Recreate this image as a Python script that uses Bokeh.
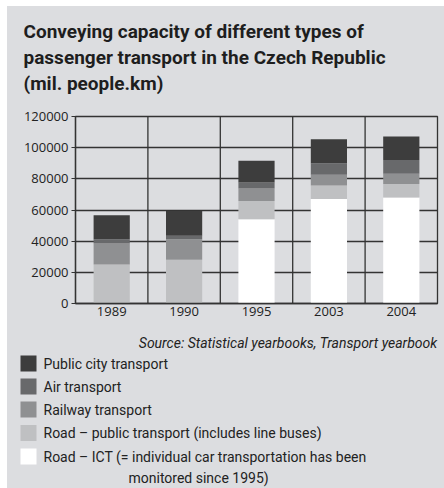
from bokeh.plotting import figure
from bokeh.layouts import column
from bokeh.models import Span, FixedTicker, ColumnDataSource, Range1d, FactorRange
from bokeh.core.properties import value
from bokeh.embed import file_html
from bokeh.resources import INLINE

years = ["1989", "1990", "1995", "2003", "2004"]
road_ict = [0, 0, 54000, 67000, 68000]
road_public = [25000, 28000, 11800, 8800, 8700]
railway = [13500, 13200, 8000, 6900, 6600]
air = [2700, 2300, 3800, 7300, 8800]
public_city = [15500, 15800, 14000, 15400, 15000]

series = ["road_ict", "road_public", "railway", "air", "public_city"]
series_labels = [
    "Road – ICT (= individual car transportation has been",
    "Road – public transport (includes line buses)",
    "Railway transport",
    "Air transport",
    "Public city transport",
]
colors = ["#ffffff", "#bfc0c2", "#8f9092", "#68696b", "#3d3d3d"]
y_ticks = [0, 20000, 40000, 60000, 80000, 100000, 120000]
title_lines = ["Conveying capacity of different types of",
               "passenger transport in the Czech Republic",
               "(mil. people.km)"]
source_text = "Source: Statistical yearbooks, Transport yearbook"
ict_note = "monitored since 1995)"

BG = "#dcdde0"
DARK = "#333333"
TXT = "#222222"
TICKFONT = "Open Sans"
FONT = "Roboto"

W = 437
H0 = 100      # title strip
H1 = 222      # chart strip
H2 = 160      # source + legend strip


def strip(height):
    f = figure(width=W, height=height, x_range=Range1d(0, W), y_range=Range1d(height, 0),
               output_backend="svg", toolbar_location=None, min_border=0,
               x_axis_type=None, y_axis_type=None, frame_align=False)
    f.background_fill_color = BG
    f.border_fill_color = BG
    f.outline_line_color = None
    f.grid.grid_line_color = None
    return f


# ---- title strip
p0 = strip(H0)
p0.text(x=[16] * 3, y=[25, 51, 77], text=title_lines, text_font=value(FONT),
        text_font_style="bold", text_font_size="19px", text_color="#1e1e1e",
        text_baseline="middle")

# ---- chart
src = ColumnDataSource(dict(years=years, road_ict=road_ict, road_public=road_public,
                            railway=railway, air=air, public_city=public_city))

p = figure(x_range=FactorRange(*years), y_range=Range1d(0, 120000),
           width=W, height=H1, output_backend="svg", toolbar_location=None,
           min_border_top=10, min_border_bottom=25, min_border_left=68, min_border_right=7,
           frame_align=False)
p.background_fill_color = BG
p.border_fill_color = BG
p.outline_line_color = DARK
p.outline_line_width = 1.3

p.vbar_stack(series, x="years", width=0.5, source=src, color=colors, line_color=None)

p.xgrid.grid_line_color = None
p.ygrid.grid_line_color = DARK
p.ygrid.grid_line_width = 1.3
p.ygrid.ticker = FixedTicker(ticks=y_ticks)
p.yaxis.ticker = FixedTicker(ticks=y_ticks)
p.ygrid.level = "underlay"

for i in range(1, len(years)):
    p.add_layout(Span(location=i, dimension="height", line_color=DARK, line_width=1.3, level="underlay"))

for ax in (p.xaxis, p.yaxis):
    ax.axis_line_color = DARK
    ax.axis_line_width = 1.3
    ax.major_tick_line_color = DARK
    ax.minor_tick_line_color = None
    ax.major_label_text_font = TICKFONT
    ax.major_label_text_font_size = "13px"
    ax.major_label_text_color = TXT
p.yaxis.major_tick_in = 0
p.yaxis.major_tick_out = 4
p.xaxis.major_tick_in = 0
p.xaxis.major_tick_out = 0
p.xaxis.major_label_standoff = 3
p.yaxis.major_label_standoff = 3
p.yaxis.formatter.use_scientific = False

# ---- source + legend strip
p2 = strip(H2)
p2.text(x=[430], y=[14], text=[source_text], text_font=value(FONT), text_font_style="italic",
        text_font_size="14px", text_color=TXT, text_align="right", text_baseline="middle")

leg_labels = series_labels[::-1]
leg_colors = colors[::-1]
leg_y = [35, 58, 81, 104.5, 128]
leg_src = ColumnDataSource(dict(x=[21] * 5, y=leg_y, tx=[36] * 5, label=leg_labels, color=leg_colors))
p2.rect(x="x", y="y", width=16, height=16, fill_color="color", line_color=None, source=leg_src)
p2.text(x="tx", y="y", text="label", source=leg_src, text_font=value(FONT),
        text_font_size="14px", text_color=TXT, text_baseline="middle")
p2.text(x=[121], y=[149], text=[ict_note], text_font=value(FONT),
        text_font_size="14px", text_color=TXT, text_baseline="middle")

layout = column(p0, p, p2, spacing=0, margin=(6, 0, 0, 7))
layout.styles = {"background-color": BG}

open("out.html", "w").write(file_html(layout, INLINE))
